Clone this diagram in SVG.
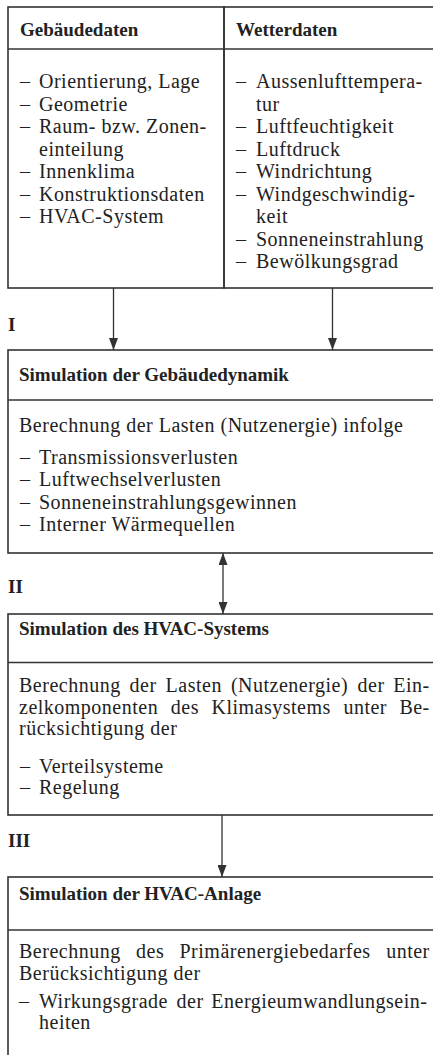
<svg xmlns="http://www.w3.org/2000/svg" width="433" height="1055" viewBox="0 0 433 1055">
<defs>
<style>
.box{fill:none;stroke:#333;stroke-width:1.6}
.sep{stroke:#333;stroke-width:1.4}
.t{font-family:"Liberation Serif","Times New Roman",serif;font-size:20px;letter-spacing:0.5px;fill:#222}
.h{font-family:"Liberation Serif","Times New Roman",serif;font-size:19px;font-weight:bold;fill:#222}
.conn line{stroke:#333;stroke-width:1.3}
</style>
<marker id="ah" viewBox="0 0 12 9" refX="12" refY="4.5" markerWidth="12" markerHeight="9" markerUnits="userSpaceOnUse" orient="auto-start-reverse">
<path d="M0,0 L12,4.5 L0,9 Z" fill="#333"/>
</marker>
</defs>
<rect width="433" height="1055" fill="#fff"/>

<g id="gebaeudedaten">
<rect class="box" x="8" y="7" width="216" height="281"/>
<line class="sep" x1="8" y1="49" x2="224" y2="49"/>
<text class="h" x="20" y="36">Gebäudedaten</text>
<text class="t"><tspan x="20" y="88">–</tspan><tspan x="39" y="88">Orientierung, Lage</tspan></text>
<text class="t"><tspan x="20" y="110.5">–</tspan><tspan x="39" y="110.5">Geometrie</tspan></text>
<text class="t"><tspan x="20" y="133">–</tspan><tspan x="39" y="133">Raum- bzw. Zonen-</tspan></text>
<text class="t" x="39" y="155.5">einteilung</text>
<text class="t"><tspan x="20" y="178">–</tspan><tspan x="39" y="178">Innenklima</tspan></text>
<text class="t"><tspan x="20" y="200.5">–</tspan><tspan x="39" y="200.5">Konstruktionsdaten</tspan></text>
<text class="t"><tspan x="20" y="223">–</tspan><tspan x="39" y="223">HVAC-System</tspan></text>
</g>

<g id="wetterdaten">
<rect class="box" x="224" y="7" width="216" height="281"/>
<line class="sep" x1="224" y1="49" x2="440" y2="49"/>
<text class="h" x="236" y="36">Wetterdaten</text>
<text class="t"><tspan x="236" y="88">–</tspan><tspan x="256" y="88">Aussenlufttempera-</tspan></text>
<text class="t" x="256" y="110.5">tur</text>
<text class="t"><tspan x="236" y="133">–</tspan><tspan x="256" y="133">Luftfeuchtigkeit</tspan></text>
<text class="t"><tspan x="236" y="155.5">–</tspan><tspan x="256" y="155.5">Luftdruck</tspan></text>
<text class="t"><tspan x="236" y="178">–</tspan><tspan x="256" y="178">Windrichtung</tspan></text>
<text class="t"><tspan x="236" y="200.5">–</tspan><tspan x="256" y="200.5">Windgeschwindig-</tspan></text>
<text class="t" x="256" y="223">keit</text>
<text class="t"><tspan x="236" y="245.5">–</tspan><tspan x="256" y="245.5">Sonneneinstrahlung</tspan></text>
<text class="t"><tspan x="236" y="268">–</tspan><tspan x="256" y="268">Bewölkungsgrad</tspan></text>
</g>

<g id="label-I"><text class="h" x="8" y="331">I</text></g>

<g id="gebaeudedynamik">
<rect class="box" x="8" y="350" width="432" height="203"/>
<line class="sep" x1="8" y1="400" x2="440" y2="400"/>
<text class="h" x="19" y="381">Simulation der Gebäudedynamik</text>
<text class="t" x="19" y="432">Berechnung der Lasten (Nutzenergie) infolge</text>
<text class="t"><tspan x="20" y="464">–</tspan><tspan x="39" y="464">Transmissionsverlusten</tspan></text>
<text class="t"><tspan x="20" y="486">–</tspan><tspan x="39" y="486">Luftwechselverlusten</tspan></text>
<text class="t"><tspan x="20" y="508.5">–</tspan><tspan x="39" y="508.5">Sonneneinstrahlungsgewinnen</tspan></text>
<text class="t"><tspan x="20" y="530.5">–</tspan><tspan x="39" y="530.5">Interner Wärmequellen</tspan></text>
</g>

<g id="label-II"><text class="h" x="8" y="593">II</text></g>

<g id="hvac-system">
<rect class="box" x="8" y="614" width="432" height="201"/>
<line class="sep" x1="8" y1="662.5" x2="440" y2="662.5"/>
<text class="h" x="19" y="635">Simulation des HVAC-Systems</text>
<text class="t"><tspan x="19" y="691.5">Berechnung</tspan><tspan x="129.6" y="691.5">der</tspan><tspan x="165.6" y="691.5">Lasten</tspan><tspan x="230.9" y="691.5">(Nutzenergie)</tspan><tspan x="357.5" y="691.5">der</tspan><tspan x="393.3" y="691.5">Ein-</tspan></text>
<text class="t"><tspan x="19" y="713.5">zelkomponenten</tspan><tspan x="170.8" y="713.5">des</tspan><tspan x="211.5" y="713.5">Klimasystems</tspan><tspan x="343.4" y="713.5">unter</tspan><tspan x="399.4" y="713.5">Be-</tspan></text>
<text class="t" x="19" y="735">rücksichtigung der</text>
<text class="t"><tspan x="20" y="772.5">–</tspan><tspan x="39" y="772.5">Verteilsysteme</tspan></text>
<text class="t"><tspan x="20" y="794">–</tspan><tspan x="39" y="794">Regelung</tspan></text>
</g>

<g id="label-III"><text class="h" x="8" y="847">III</text></g>

<g id="hvac-anlage">
<rect class="box" x="8" y="877" width="432" height="190"/>
<line class="sep" x1="8" y1="930" x2="440" y2="930"/>
<text class="h" x="19" y="900">Simulation der HVAC-Anlage</text>
<text class="t"><tspan x="19" y="958">Berechnung</tspan><tspan x="136" y="958">des</tspan><tspan x="179.5" y="958">Primärenergiebedarfes</tspan><tspan x="386.2" y="958">unter</tspan></text>
<text class="t" x="19" y="980">Berücksichtigung der</text>
<text class="t"><tspan x="19" y="1008">–</tspan><tspan x="39" y="1008">Wirkungsgrade</tspan><tspan x="176.6" y="1008">der</tspan><tspan x="211.3" y="1008">Energieumwandlungsein-</tspan></text>
<text class="t" x="39" y="1029">heiten</text>
</g>

<g id="connectors" class="conn">
<line x1="113.5" y1="288" x2="113.5" y2="350" marker-end="url(#ah)"/>
<line x1="332.5" y1="288" x2="332.5" y2="350" marker-end="url(#ah)"/>
<line x1="223" y1="553" x2="223" y2="614" marker-start="url(#ah)" marker-end="url(#ah)"/>
<line x1="222" y1="815" x2="222" y2="877" marker-end="url(#ah)"/>
</g>
</svg>
